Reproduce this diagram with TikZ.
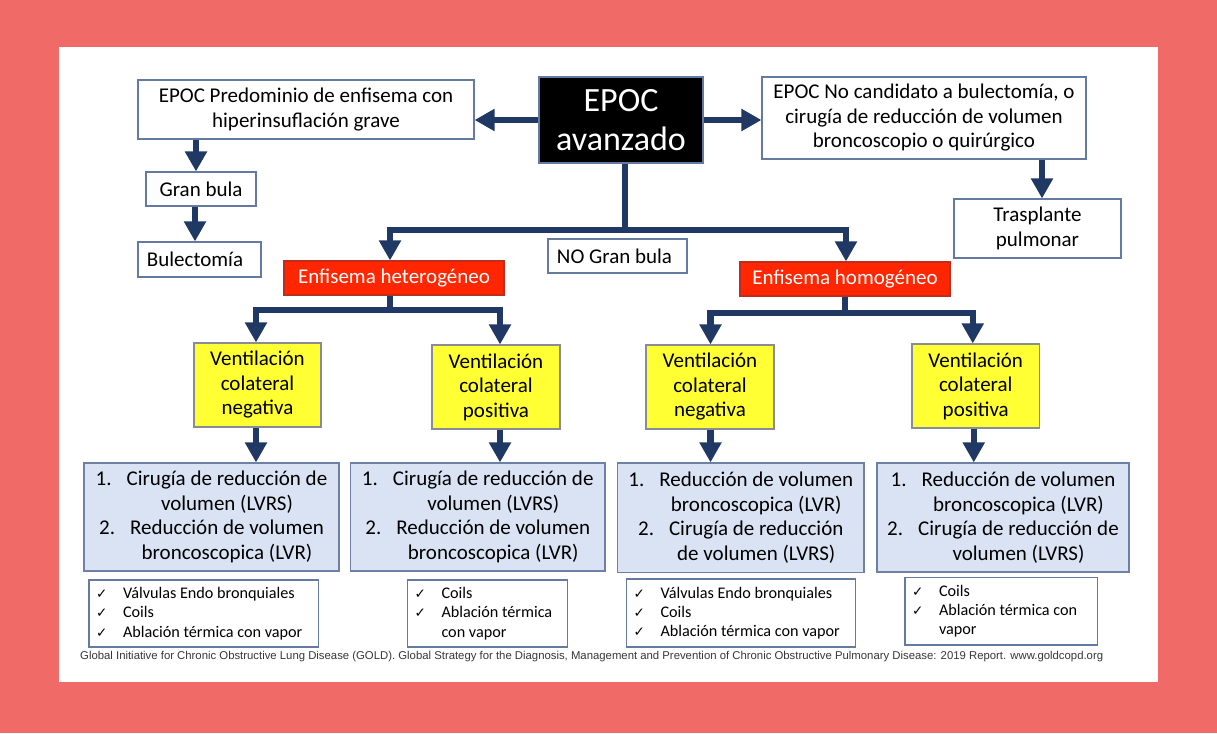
\documentclass[tikz,border=0pt]{standalone}
\usepackage{fontspec}
\setmainfont{Carlito}
\newfontfamily\symfont{DejaVu Sans}
\newfontfamily\footfont{Liberation Sans}
\usetikzlibrary{arrows.meta}
\definecolor{salmon}{RGB}{240,107,104}
\definecolor{navy}{RGB}{32,56,100}
\definecolor{bordc}{RGB}{100,122,160}
\definecolor{redf}{RGB}{255,38,0}
\definecolor{redb}{RGB}{190,45,30}
\definecolor{yelf}{RGB}{255,255,51}
\definecolor{ybord}{RGB}{135,140,150}
\definecolor{bluef}{RGB}{218,227,243}
\definecolor{bbord}{RGB}{110,128,165}
\definecolor{footc}{RGB}{55,55,55}
\newcommand\itm[1]{#1.\hspace{15pt}}
\newcommand\cont{\hspace*{31pt}}
\newcommand\ck[1]{\mbox{\makebox[27pt][l]{\symfont\fontsize{13.5}{13.5}\selectfont ✓}#1}}
\newcommand\ckc[1]{\mbox{\hspace*{27pt}#1}}
\begin{document}
\begin{tikzpicture}[x=1pt,y=-1pt,
  base/.style={rectangle, inner sep=0pt, align=center, font=\fontsize{21}{24.5}\selectfont, line width=1.1pt},
  wbox/.style={base, draw=bordc, fill=white},
  blackbox/.style={base, draw=bordc, fill=black, text=white, font=\fontsize{34}{38.5}\selectfont},
  redbox/.style={base, draw=redb, fill=redf, text=white},
  ybox/.style={base, draw=ybord, fill=yelf},
  bbox/.style={base, draw=bbord, fill=bluef},
  cbox/.style={base, draw=bordc, fill=white, align=flush left, inner xsep=7pt, font=\fontsize{16.2}{19.2}\selectfont},
  conn/.style={draw=navy, line width=6.5pt},
  arr/.style={conn, -{Triangle[width=21pt,length=20pt]}}
]
% background and panel
\fill[salmon] (0,0) rectangle (1217,733);
\fill[white] (59,47) rectangle (1158,681.5);

% top level
\node[blackbox, minimum width=164pt, minimum height=86pt] (av) at (621,120) {EPOC\\avanzado};
\node[wbox, minimum width=336pt, minimum height=59pt] (pred) at (306,109.5) {EPOC Predominio de enfisema con\\hiperinsuflación grave};
\node[wbox, minimum width=110pt, minimum height=34pt] (gb) at (201,189) {Gran bula};
\node[wbox, minimum width=123pt, minimum height=35pt] (bul) at (199.5,259.5) {Bulectomía\hspace*{9pt}};
\node[wbox, minimum width=324pt, minimum height=82pt] (nc) at (924,118) {EPOC No candidato a bulectomía, o\\cirugía de reducción de volumen\\broncoscopio o quirúrgico};
\node[wbox, minimum width=167pt, minimum height=59pt] (tr) at (1037.5,228.5) {Trasplante\\pulmonar};
\node[wbox, minimum width=139pt, minimum height=34pt] (ngb) at (617.5,256) {NO Gran bula\hspace*{6pt}};

% emphysema types
\node[redbox, minimum width=220pt, minimum height=34pt] (het) at (394,278) {Enfisema heterogéneo};
\node[redbox, minimum width=210pt, minimum height=34pt] (hom) at (845,279) {Enfisema homogéneo};

% collateral ventilation
\node[ybox, minimum width=127pt, minimum height=84pt] (y1) at (257.5,385) {Ventilación\\colateral\\negativa};
\node[ybox, minimum width=128pt, minimum height=84pt] (y2) at (496,387) {Ventilación\\colateral\\positiva};
\node[ybox, minimum width=128pt, minimum height=84pt] (y3) at (710,387) {Ventilación\\colateral\\negativa};
\node[ybox, minimum width=127.5pt, minimum height=84pt] (y4) at (975.75,386) {Ventilación\\colateral\\positiva};

% treatments
\node[bbox, minimum width=255pt, minimum height=108pt] (b1) at (211.5,517) {\itm{1}Cirugía de reducción de\\\cont volumen (LVRS)\\\itm{2}Reducción de volumen\\\cont broncoscopica (LVR)};
\node[bbox, minimum width=254.5pt, minimum height=108pt] (b2) at (477.75,517) {\itm{1}Cirugía de reducción de\\\cont volumen (LVRS)\\\itm{2}Reducción de volumen\\\cont broncoscopica (LVR)};
\node[bbox, minimum width=246.5pt, minimum height=109.5pt] (b3) at (740.75,517.75) {\itm{1}Reducción de volumen\\\cont broncoscopica (LVR)\\\itm{2}Cirugía de reducción\\\cont de volumen (LVRS)};
\node[bbox, minimum width=252pt, minimum height=109pt] (b4) at (1003,517.5) {\itm{1}Reducción de volumen\\\cont broncoscopica (LVR)\\\itm{2}Cirugía de reducción de\\\cont volumen (LVRS)};

% techniques
\node[cbox, text width=215.5pt, minimum height=67pt] (c1) at (203.75,613.5) {\ck{Válvulas Endo bronquiales}\\\ck{Coils}\\\ck{Ablación térmica con vapor}};
\node[cbox, text width=146pt, minimum height=67pt] (c2) at (487.5,613.5) {\ck{Coils}\\\ck{Ablación térmica}\\\ckc{con vapor}};
\node[cbox, text width=215pt, minimum height=68pt] (c3) at (741,613) {\ck{Válvulas Endo bronquiales}\\\ck{Coils}\\\ck{Ablación térmica con vapor}};
\node[cbox, text width=178.5pt, minimum height=67.5pt] (c4) at (1001.25,611.25) {\ck{Coils}\\\ck{Ablación térmica con}\\\ckc{vapor}};

% footer
\node[anchor=west, inner sep=0pt, text=footc] (foot) at (80,657) {\resizebox{1023pt}{!}{\footfont\fontsize{10}{12}\selectfont Global Initiative for Chronic Obstructive Lung Disease (GOLD). Global Strategy for the Diagnosis, Management and Prevention of Chronic Obstructive Pulmonary Disease: 2019 Report. www.goldcopd.org}};

% connectors: top
\draw[arr] (av.west) -- (av.west -| pred.east);
\draw[arr] (av.east) -- (av.east -| nc.west);
\coordinate (a1) at ([xshift=-5pt]gb.north);
\draw[arr] (a1 |- pred.south) -- (a1);
\coordinate (a2) at ([xshift=-4.5pt]bul.north);
\draw[arr] (a2 |- gb.south) -- (a2);
\coordinate (a3) at ([xshift=4.5pt]tr.north);
\draw[arr] (a3 |- nc.south) -- (a3);

% trunk
\coordinate (xtr) at (625,0);
\coordinate (ytr) at (0,230);
\coordinate (hn) at ([xshift=-4pt]het.north);
\coordinate (on) at ([xshift=1pt]hom.north);
\draw[conn] (av.south -| xtr) -- (xtr |- ytr);
\draw[arr] (xtr |- ytr) -| (hn);
\draw[arr] (xtr |- ytr) -| (on);

% heterogeneous branch
\coordinate (hs) at ([xshift=-4pt]het.south);
\coordinate (yh) at (0,310);
\coordinate (t1) at ([xshift=-1.5pt]y1.north);
\coordinate (t2) at ([xshift=4pt]y2.north);
\draw[conn] (hs) -- (hs |- yh);
\draw[arr] (hs |- yh) -| (t1);
\draw[arr] (hs |- yh) -| (t2);

% homogeneous branch
\coordinate (yo) at (0,313);
\coordinate (t3) at ([xshift=0.5pt]y3.north);
\coordinate (t4) at ([xshift=-3pt]y4.north);
\draw[conn] (hom.south) -- (hom.south |- yo);
\draw[arr] (hom.south |- yo) -| (t3);
\draw[arr] (hom.south |- yo) -| (t4);

% yellow to blue
\coordinate (s1) at ([xshift=-1.5pt]y1.south);
\coordinate (s2) at ([xshift=4pt]y2.south);
\coordinate (s3) at ([xshift=0.5pt]y3.south);
\coordinate (s4) at ([xshift=-2pt]y4.south);
\draw[arr] (s1) -- (s1 |- b1.north);
\draw[arr] (s2) -- (s2 |- b2.north);
\draw[arr] (s3) -- (s3 |- b3.north);
\draw[arr] (s4) -- (s4 |- b4.north);
\end{tikzpicture}
\end{document}
